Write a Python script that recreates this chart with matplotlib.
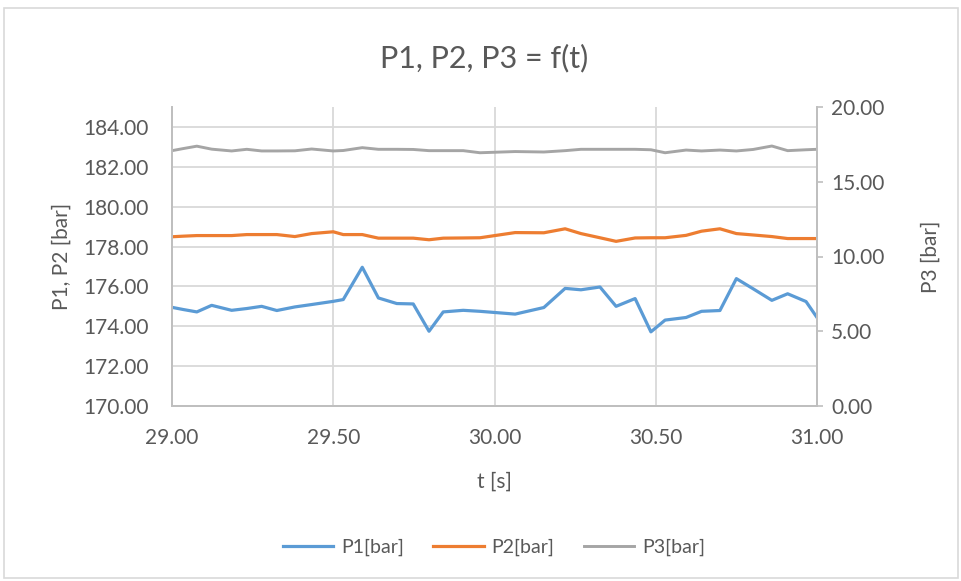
import matplotlib
matplotlib.use("Agg")
import numpy as np
import matplotlib.pyplot as plt
from matplotlib.patches import Rectangle

plt.rcParams['font.family'] = ['Lato', 'DejaVu Sans']

# time stamps [s]
t = [29.000, 29.035, 29.077, 29.123, 29.185, 29.232, 29.278, 29.325, 29.381, 29.433,
     29.500, 29.531, 29.590, 29.640, 29.697, 29.748, 29.797, 29.841, 29.903, 29.955,
     30.064, 30.153, 30.219, 30.268, 30.327, 30.377, 30.436, 30.485, 30.529, 30.594,
     30.642, 30.699, 30.750, 30.802, 30.860, 30.909, 30.966, 31.000]

p1 = [174.95, 174.84, 174.72, 175.05, 174.80, 174.89, 175.00, 174.79, 174.97, 175.09,
      175.25, 175.34, 176.96, 175.42, 175.14, 175.12, 173.75, 174.72, 174.80, 174.75,
      174.61, 174.94, 175.90, 175.83, 175.97, 175.00, 175.39, 173.72, 174.31, 174.44,
      174.75, 174.79, 176.39, 175.88, 175.30, 175.63, 175.24, 174.44]

p2 = [178.49, 178.52, 178.55, 178.55, 178.55, 178.60, 178.60, 178.60, 178.50, 178.65,
      178.74, 178.60, 178.60, 178.42, 178.42, 178.42, 178.34, 178.42, 178.43, 178.44,
      178.70, 178.69, 178.89, 178.65, 178.44, 178.26, 178.43, 178.44, 178.44, 178.56,
      178.77, 178.89, 178.65, 178.58, 178.50, 178.40, 178.40, 178.40]

p3 = [17.08, 17.22, 17.38, 17.18, 17.06, 17.17, 17.06, 17.06, 17.07, 17.19,
      17.06, 17.09, 17.28, 17.17, 17.17, 17.16, 17.08, 17.08, 17.08, 16.94,
      17.02, 16.99, 17.08, 17.17, 17.17, 17.17, 17.17, 17.14, 16.94, 17.12,
      17.06, 17.12, 17.06, 17.16, 17.39, 17.08, 17.14, 17.17]

x_ticks = [29.0, 29.5, 30.0, 30.5, 31.0]
left_ticks = [170, 172, 174, 176, 178, 180, 182, 184]
right_ticks = [0, 5, 10, 15, 20]

txt = '#595959'
grid = '#d9d9d9'

fig = plt.figure(figsize=(9.61, 5.81), dpi=100)
fig.patches.append(Rectangle((4 / 961, 3 / 581), 954 / 961, 570 / 581,
                             transform=fig.transFigure, fill=False,
                             edgecolor='#d9d9d9', lw=1.2))

ax = fig.add_axes([172 / 961, 1 - 406 / 581, 645 / 961, 299 / 581])
ax2 = ax.twinx()

l1, = ax.plot(t, p1, color='#5B9BD5', lw=2.3, label='P1[bar]')
l2, = ax.plot(t, p2, color='#ED7D31', lw=2.3, label='P2[bar]')
l3, = ax2.plot(t, p3, color='#A5A5A5', lw=2.1, label='P3[bar]')

ax.set_xlim(29, 31)
ax.set_ylim(170, 185)
ax2.set_ylim(0, 20)
ax.set_xticks(x_ticks)
ax.set_yticks(left_ticks)
ax2.set_yticks(right_ticks)
ax.set_xticklabels([f'{v:.2f}' for v in x_ticks])
ax.set_yticklabels([f'{v:.2f}' for v in left_ticks])
ax2.set_yticklabels([f'{v:.2f}' for v in right_ticks])

for v in left_ticks:
    ax.axhline(v, color=grid, lw=1.3, zorder=0)
for v in x_ticks:
    ax.axvline(v, color=grid, lw=1.3, zorder=0)

for a in (ax, ax2):
    a.spines['top'].set_visible(False)
    for s in ('left', 'right', 'bottom'):
        a.spines[s].set_color('#bfbfbf')
        a.spines[s].set_linewidth(1.3)
ax.tick_params(axis='x', length=0, pad=16, labelsize=15, labelcolor=txt)
ax.tick_params(axis='y', length=0, pad=17, labelsize=15, labelcolor=txt)
ax2.tick_params(axis='y', length=4, width=1.2, color='#bfbfbf', pad=6,
                labelsize=15, labelcolor=txt)

ax.set_xlabel('t [s]', fontsize=15, color=txt, labelpad=17)
ax.set_ylabel('P1, P2 [bar]', fontsize=15, color=txt, labelpad=8)
ax2.set_ylabel('P3 [bar]', fontsize=15, color=txt, labelpad=26)

fig.text(0.504, 1 - 58 / 581, 'P1, P2, P3 = f(t)', ha='center', va='center',
         fontsize=22, color=txt)

fig.legend(handles=[l1, l2, l3], loc='center', bbox_to_anchor=(0.514, 1 - 547 / 581),
           ncol=3, frameon=False, fontsize=14, handlelength=2.6, columnspacing=1.5,
           labelcolor=txt, handletextpad=0.4)

fig.savefig('out.png', dpi=100)
